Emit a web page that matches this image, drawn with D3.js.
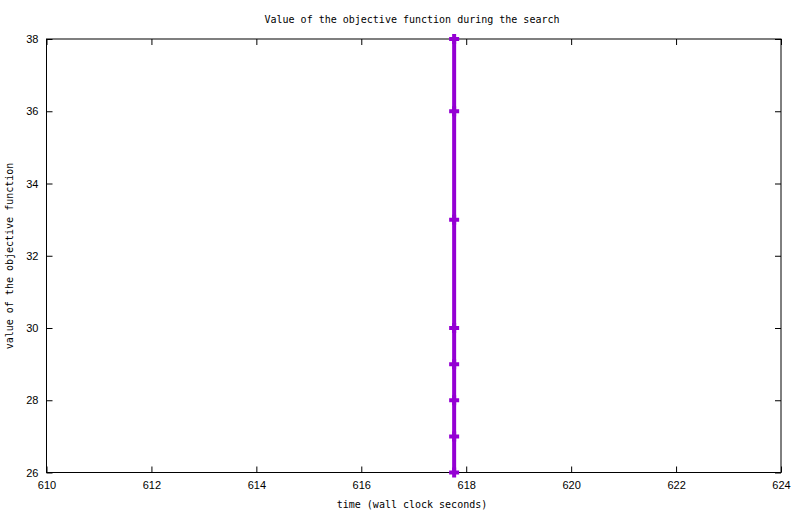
<!DOCTYPE html>
<html>
<head>
<meta charset="utf-8">
<script src="https://cdn.jsdelivr.net/npm/d3@7"></script>
<style>
  body { margin: 0; background: #fff; }
  svg text { fill: #000; }
</style>
</head>
<body>
<div class="chart"></div>
<script>
// values: every point sits at the same wall clock time
const times = [617.77, 617.77, 617.77, 617.77, 617.77, 617.77, 617.77, 617.77]
const objective = [38, 36, 33, 30, 29, 28, 27, 26]
const xTicks = [610, 612, 614, 616, 618, 620, 622, 624]
const yTicks = [26, 28, 30, 32, 34, 36, 38]

const w = 800,
      h = 514,
      plotLeft = 46.5,
      plotRight = 781,
      plotTop = 39,
      plotBottom = 472.5

const points = times.map((t, i) => ({ t: t, v: objective[i] }))

const svg = d3.select('.chart')
              .append('svg')
              .attr('width', w)
              .attr('height', h)

const xScale = d3.scaleLinear().domain([610, 624]).range([plotLeft, plotRight])
const yScale = d3.scaleLinear().domain([26, 38]).range([plotBottom, plotTop])

const tickFont = 'Liberation Sans, Arial, sans-serif'
const monoFont = 'DejaVu Sans Mono, monospace'

// axes, gnuplot style: ticks inward on all four sides
const drawAxis = (axis, tx, ty, labels) => {
  const g = svg.append('g')
               .attr('transform', `translate(${tx},${ty})`)
               .call(axis)
  g.select('.domain').remove()
  g.selectAll('line').attr('stroke', '#000').attr('stroke-width', 1)
  g.selectAll('text')
   .style('font-family', tickFont)
   .style('font-size', '11px')
   .attr('fill', '#000')
  if (!labels) g.selectAll('text').remove()
  return g
}

drawAxis(d3.axisBottom(xScale).tickValues(xTicks).tickSize(-6).tickPadding(9).tickFormat(d3.format('d')), 0, plotBottom, true)
drawAxis(d3.axisTop(xScale).tickValues(xTicks).tickSize(-6), 0, plotTop, false)
drawAxis(d3.axisLeft(yScale).tickValues(yTicks).tickSize(-6).tickPadding(8).tickFormat(d3.format('d')), plotLeft, 0, true)
drawAxis(d3.axisRight(yScale).tickValues(yTicks).tickSize(-6), plotRight, 0, false)

svg.append('rect')
   .attr('x', plotLeft)
   .attr('y', plotTop)
   .attr('width', plotRight - plotLeft)
   .attr('height', plotBottom - plotTop)
   .attr('fill', 'none')
   .attr('stroke', '#000')
   .attr('stroke-width', 1)

// the series
const line = d3.line().x((d) => xScale(d.t)).y((d) => yScale(d.v))
svg.append('path')
   .datum(points)
   .attr('d', line)
   .attr('fill', 'none')
   .attr('stroke', '#9400d3')
   .attr('stroke-width', 4)

svg.selectAll('.pt')
   .data(points)
   .enter()
   .append('path')
   .attr('class', 'pt')
   .attr('d', (d) => {
      const x = xScale(d.t), y = yScale(d.v)
      return `M${x - 5},${y}H${x + 5}M${x},${y - 5}V${y + 5}`
   })
   .attr('stroke', '#9400d3')
   .attr('stroke-width', 4)

// texts
svg.append('text')
   .text('Value of the objective function during the search')
   .attr('x', 412)
   .attr('y', 23)
   .attr('text-anchor', 'middle')
   .style('font-family', monoFont)
   .style('font-size', '10px')

svg.append('text')
   .text('time (wall clock seconds)')
   .attr('x', 412)
   .attr('y', 508)
   .attr('text-anchor', 'middle')
   .style('font-family', monoFont)
   .style('font-size', '10px')

svg.append('text')
   .text('value of the objective function')
   .attr('transform', 'translate(13,256) rotate(-90)')
   .attr('text-anchor', 'middle')
   .style('font-family', monoFont)
   .style('font-size', '10px')
</script>
</body>
</html>
